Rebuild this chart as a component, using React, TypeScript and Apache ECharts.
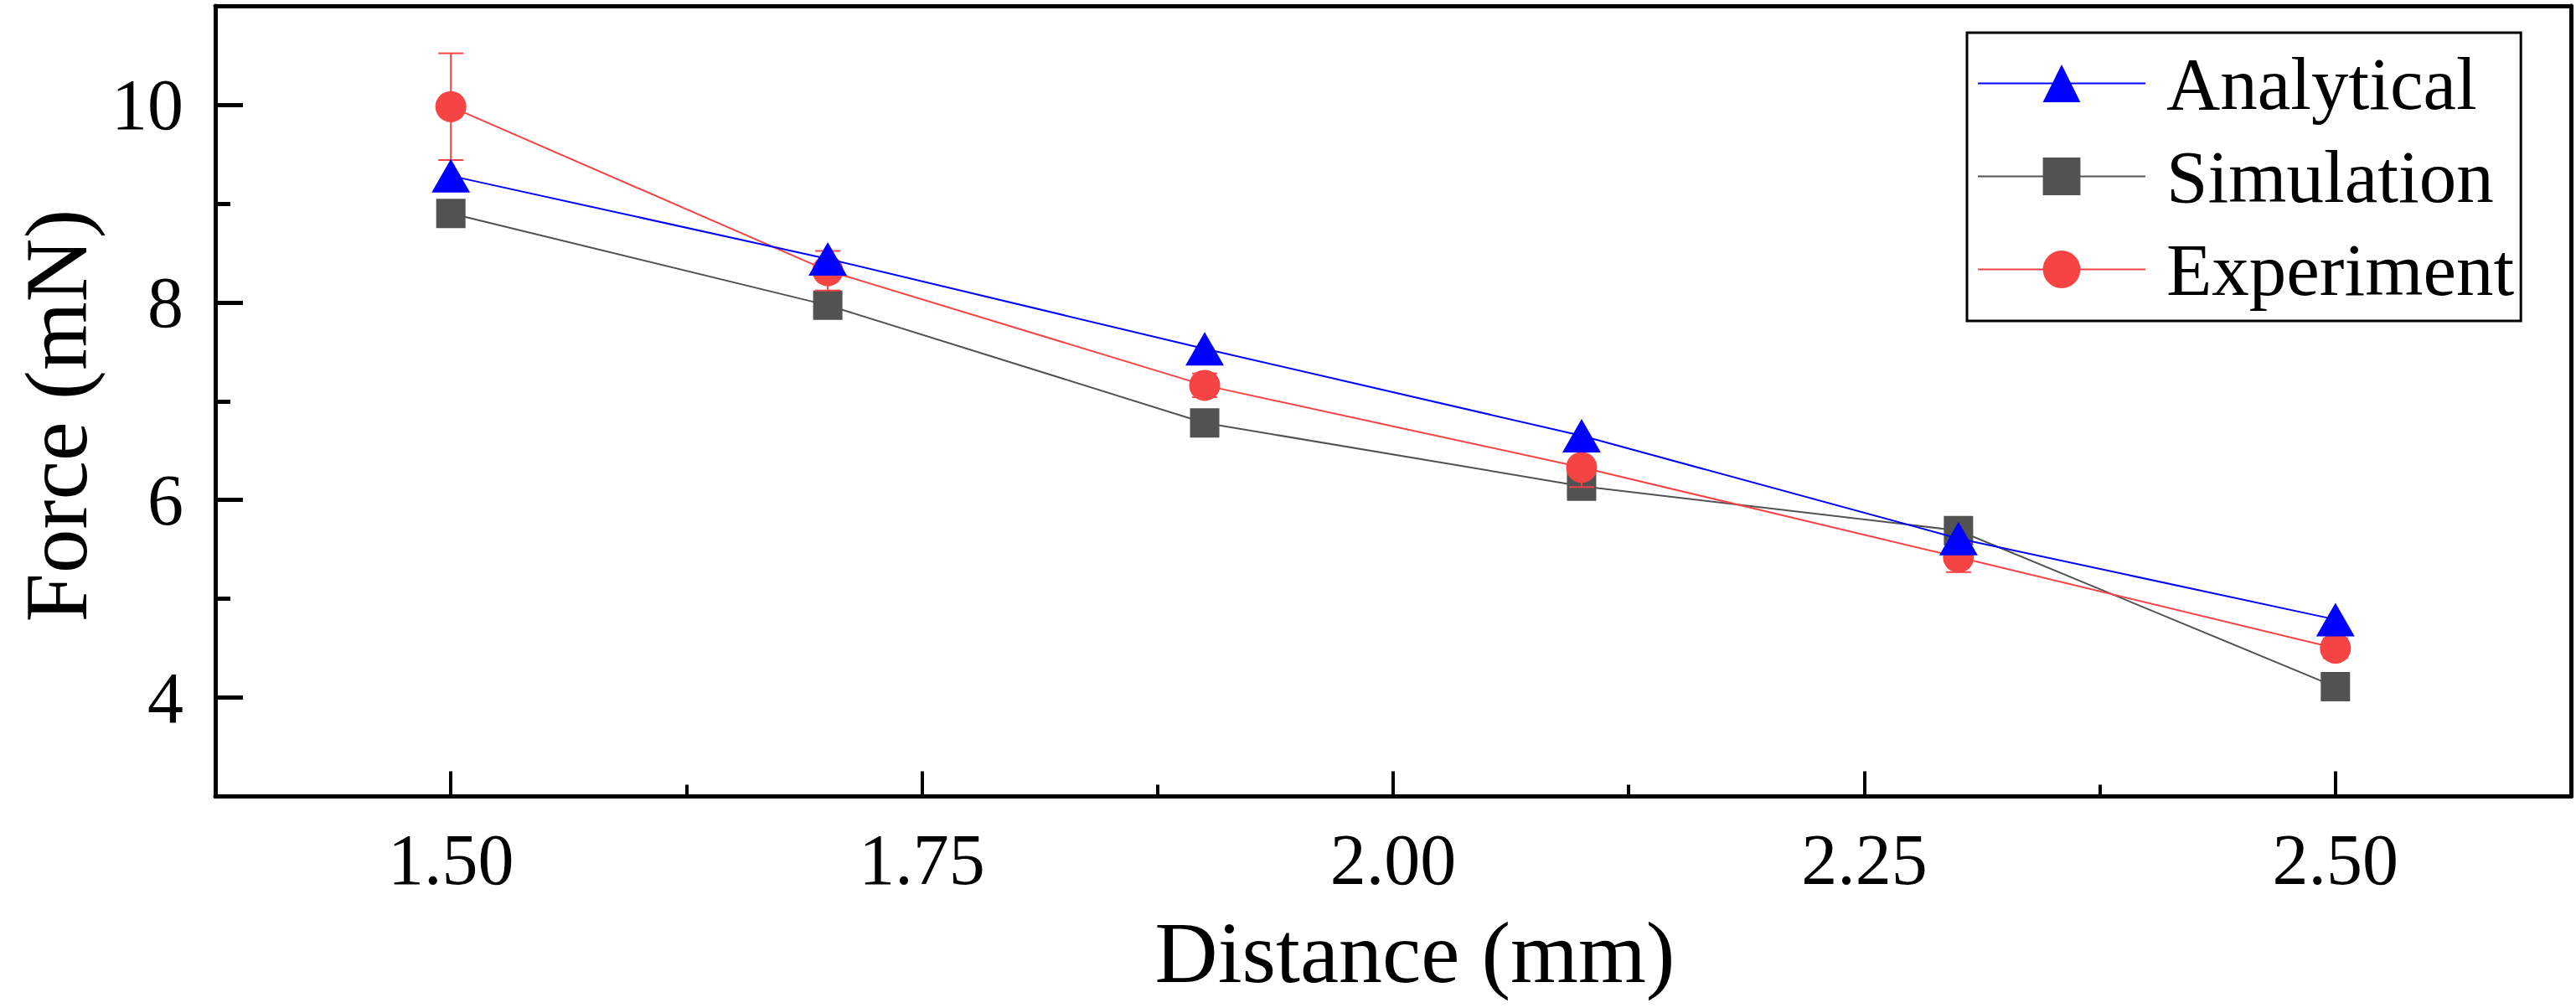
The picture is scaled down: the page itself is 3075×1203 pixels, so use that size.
import React, { useEffect, useRef } from "react";
import * as echarts from "echarts";

const distance = [1.5, 1.7, 1.9, 2.1, 2.3, 2.5];
const analytical = [9.28, 8.44, 7.53, 6.65, 5.61, 4.79];
const simulation = [8.9, 7.97, 6.78, 6.14, 5.69, 4.11];
const experiment = [9.98, 8.32, 7.16, 6.33, 5.42, 4.5];
const experimentErr = [0.54, 0.2, 0.12, 0.2, 0.15, 0.1];

const xMajorTicks = [1.5, 1.75, 2.0, 2.25, 2.5];
const xMinorTicks = [1.625, 1.875, 2.125, 2.375];
const yMajorTicks = [4, 6, 8, 10];
const yMinorTicks = [5, 7, 9];

const FONT = "Liberation Serif";
const BLUE = "#0000FF";
const GRAY = "#525252";
const RED = "#F64444";

export default function App() {
  const ref = useRef<HTMLDivElement>(null);
  useEffect(() => {
    if (!ref.current) return;
    const chart = echarts.init(ref.current, undefined, { renderer: "svg" });
    const pts = (ys: number[]) => distance.map((x, i) => [x, ys[i]]);
    const errData = distance.map((x, i) => [x, experiment[i], experimentErr[i]]);
    const option: any = {
      animation: false,
      backgroundColor: "#ffffff",
      grid: {
        left: 257,
        right: 6,
        top: 7,
        bottom: 252.5,
        containLabel: false,
        outerBoundsMode: "none",
      },
      graphic: [
        {
          type: "text",
          x: 67,
          y: 496,
          rotation: Math.PI / 2,
          style: {
            text: "Force (mN)",
            font: `105px "${FONT}"`,
            fill: "#000",
            align: "center",
            verticalAlign: "middle",
          },
        },
      ],
      legend: {
        data: ["Analytical", "Simulation", "Experiment"],
        orient: "vertical",
        left: 2348,
        top: 39,
        padding: [16, 8, 17, 12],
        borderColor: "#000",
        borderWidth: 3,
        itemWidth: 200,
        itemHeight: 56,
        itemGap: 22,
        textStyle: { fontFamily: FONT, fontSize: 89, color: "#000", padding: [0, 0, 0, 20] },
      },
      xAxis: [
        {
          type: "value",
          position: "bottom",
          min: 1.375,
          max: 2.625,
          name: "Distance (mm)",
          nameLocation: "middle",
          nameGap: 134,
          nameTextStyle: { fontFamily: FONT, fontSize: 104, color: "#000", padding: [0, 0, 0, 52] },
          axisLine: { show: true, onZero: false, lineStyle: { color: "#000", width: 5 } },
          axisTick: { show: true, inside: true, length: 30, lineStyle: { color: "#000", width: 4 }, customValues: xMajorTicks },
          axisLabel: {
            show: true,
            margin: 32,
            fontFamily: FONT,
            fontSize: 86,
            color: "#000",
            customValues: xMajorTicks,
            formatter: (v: number) => v.toFixed(2),
          },
          splitLine: { show: false },
        },
        {
          type: "value",
          position: "bottom",
          min: 1.375,
          max: 2.625,
          axisLine: { show: false },
          axisTick: { show: true, inside: true, length: 14, lineStyle: { color: "#000", width: 4 }, customValues: xMinorTicks },
          axisLabel: { show: false },
          splitLine: { show: false },
        },
        {
          type: "value",
          position: "top",
          min: 1.375,
          max: 2.625,
          axisLine: { show: true, onZero: false, lineStyle: { color: "#000", width: 5 } },
          axisTick: { show: false },
          axisLabel: { show: false },
          splitLine: { show: false },
        },
      ],
      yAxis: [
        {
          type: "value",
          position: "left",
          min: 3,
          max: 11,
          axisLine: { show: true, onZero: false, lineStyle: { color: "#000", width: 5 } },
          axisTick: { show: true, inside: true, length: 33, lineStyle: { color: "#000", width: 5 }, customValues: yMajorTicks },
          axisLabel: {
            show: true,
            margin: 38,
            fontFamily: FONT,
            fontSize: 86,
            color: "#000",
            customValues: yMajorTicks,
          },
          splitLine: { show: false },
        },
        {
          type: "value",
          position: "left",
          min: 3,
          max: 11,
          axisLine: { show: false },
          axisTick: { show: true, inside: true, length: 18, lineStyle: { color: "#000", width: 5 }, customValues: yMinorTicks },
          axisLabel: { show: false },
          splitLine: { show: false },
        },
        {
          type: "value",
          position: "right",
          min: 3,
          max: 11,
          axisLine: { show: true, onZero: false, lineStyle: { color: "#000", width: 5 } },
          axisTick: { show: false },
          axisLabel: { show: false },
          splitLine: { show: false },
        },
      ],
      series: [
        {
          name: "Simulation",
          type: "line",
          xAxisIndex: 0,
          yAxisIndex: 0,
          data: pts(simulation),
          symbol: "rect",
          symbolSize: 35,
          z: 2,
          lineStyle: { color: GRAY, width: 2 },
          itemStyle: { color: GRAY },
        },
        {
          name: "Experiment error",
          type: "custom",
          xAxisIndex: 0,
          yAxisIndex: 0,
          data: errData,
          z: 3,
          renderItem: (params: any, api: any) => {
            const x = api.value(0);
            const y = api.value(1);
            const e = api.value(2);
            const top = api.coord([x, y + e]);
            const bot = api.coord([x, y - e]);
            const hw = 15;
            const style = { stroke: RED, lineWidth: 2 };
            return {
              type: "group",
              children: [
                { type: "line", shape: { x1: top[0], y1: top[1], x2: bot[0], y2: bot[1] }, style },
                { type: "line", shape: { x1: top[0] - hw, y1: top[1], x2: top[0] + hw, y2: top[1] }, style },
                { type: "line", shape: { x1: bot[0] - hw, y1: bot[1], x2: bot[0] + hw, y2: bot[1] }, style },
              ],
            };
          },
        },
        {
          name: "Experiment",
          type: "line",
          xAxisIndex: 0,
          yAxisIndex: 0,
          data: pts(experiment),
          symbol: "circle",
          symbolSize: 37,
          z: 4,
          lineStyle: { color: RED, width: 2 },
          itemStyle: { color: RED },
        },
        {
          name: "Analytical",
          type: "line",
          xAxisIndex: 0,
          yAxisIndex: 0,
          data: pts(analytical),
          symbol: "triangle",
          symbolSize: [46, 40],
          z: 5,
          lineStyle: { color: BLUE, width: 2 },
          itemStyle: { color: BLUE },
        },
      ],
    };
    chart.setOption(option);
    return () => chart.dispose();
  }, []);
  return (
    <div
      ref={ref}
      style={{ position: "fixed", left: 0, top: 0, width: 3075, height: 1203, background: "#fff" }}
    />
  );
}
